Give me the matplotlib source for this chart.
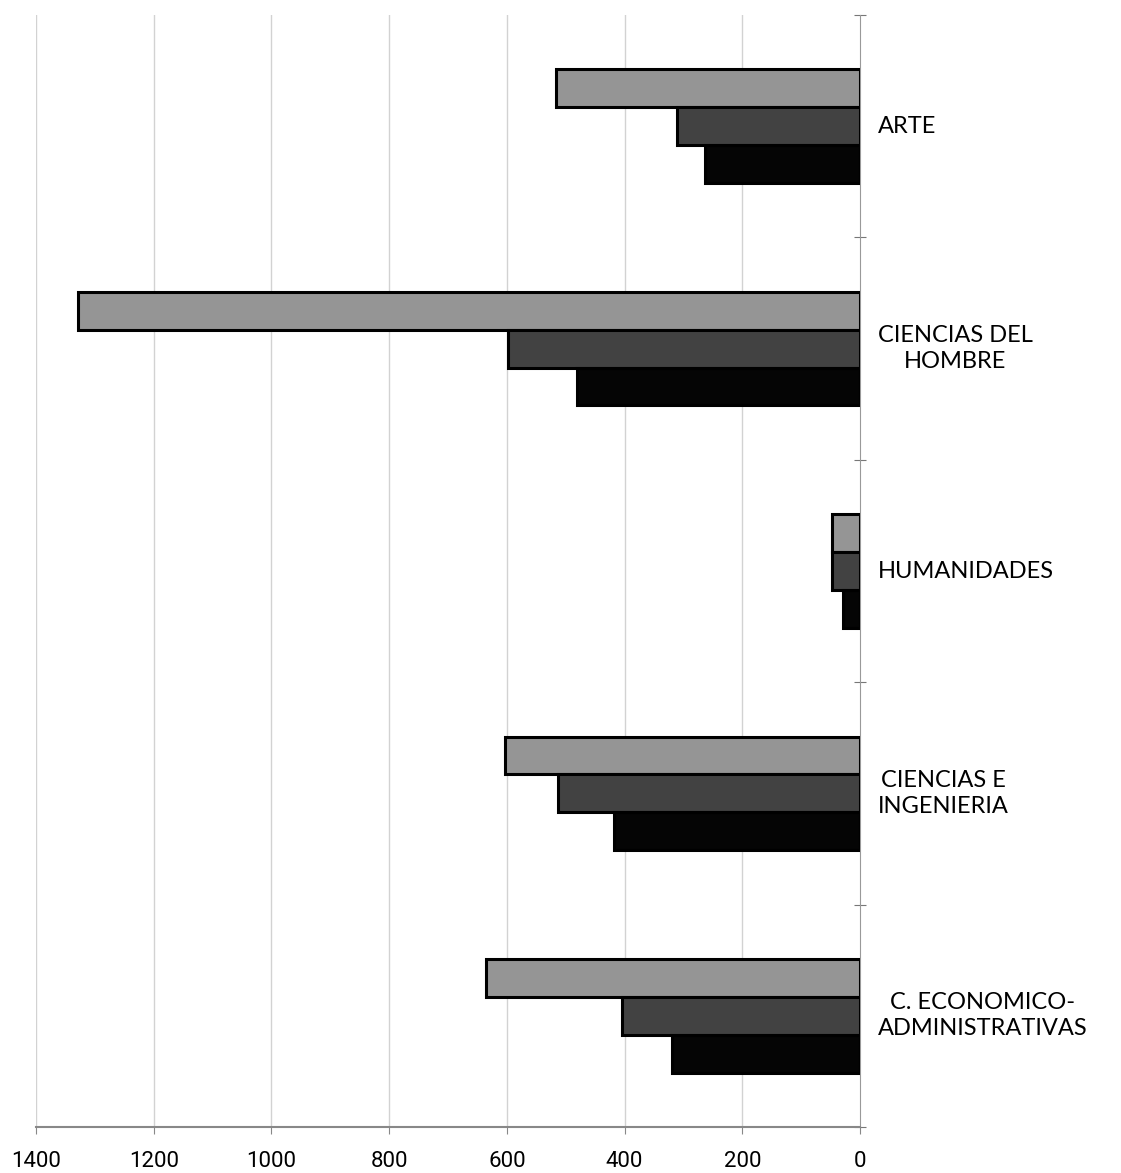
import numpy as np
import matplotlib.pyplot as plt

# categorias (de arriba hacia abajo)
categorias = ["ARTE", "CIENCIAS DEL\nHOMBRE", "HUMANIDADES",
              "CIENCIAS E\nINGENIERIA", "C. ECONOMICO-\nADMINISTRATIVAS"]

# tres series por categoria
serie_gris = [516, 1329, 48, 603, 635]
serie_oscura = [311, 598, 48, 513, 404]
serie_negra = [263, 481, 29, 418, 319]

ticks_x = [1400, 1200, 1000, 800, 600, 400, 200, 0]

fig = plt.figure(figsize=(11.21, 11.73), dpi=100)
ax = fig.add_axes([36/1121, 1 - 1127/1173, (860 - 36)/1121, (1127 - 15)/1173])

n = len(categorias)
centros = np.arange(n) + 0.5
h = 0.17

colores = ["#959595", "#424242", "#050505"]
series = [serie_gris, serie_oscura, serie_negra]
for k, (vals, col) in enumerate(zip(series, colores)):
    ax.barh(centros + (k - 1) * h, vals, height=h, color=col,
            edgecolor="black", linewidth=2.2, zorder=3)

ax.set_xlim(1400, 0)
ax.set_ylim(n, 0)

# rejilla vertical
for xv in ticks_x[:-1]:
    ax.axvline(xv, color="#d2d2d2", linewidth=1.0, zorder=1)

ax.set_xticks(ticks_x)
ax.set_xticklabels([str(t) for t in ticks_x], fontsize=16, family="Roboto")
ax.tick_params(axis="x", length=5, color="#888888", pad=12)

ax.yaxis.tick_right()
ax.set_yticks(np.arange(n + 1))
ax.set_yticklabels([])
ax.tick_params(axis="y", direction="inout", length=8, color="#777777")

for s in ["top", "left"]:
    ax.spines[s].set_visible(False)
ax.spines["right"].set_color("#999999")
ax.spines["bottom"].set_color("#888888")
ax.spines["bottom"].set_linewidth(1.5)

# etiquetas a la derecha del eje
for c, lab in zip(centros, categorias):
    ax.annotate(lab, xy=(0, c), xytext=(18, 0), textcoords="offset pixels",
                ha="left", va="center", multialignment="center",
                fontsize=17, family="Lato", linespacing=1.3,
                annotation_clip=False)

fig.savefig("out.png", dpi=100)
